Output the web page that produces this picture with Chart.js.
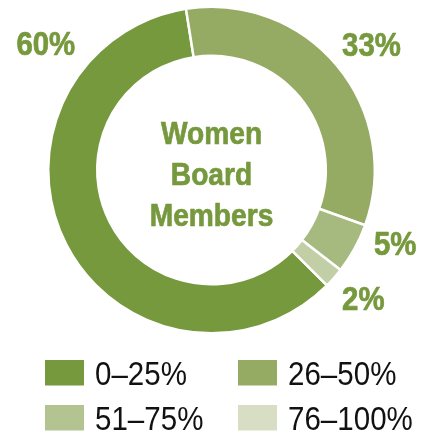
<!DOCTYPE html>
<html>
<head>
<meta charset="utf-8">
<script src="https://cdn.jsdelivr.net/npm/chart.js@4/dist/chart.umd.min.js"></script>
<style>
  html, body { margin: 0; padding: 0; background: #fff; }
  #wrap { width: 431px; height: 438px; position: relative; }
</style>
</head>
<body>
<div id="wrap"><canvas id="c" width="431" height="438"></canvas></div>
<script>
// ---- data ----
const categories = ['0\u201325%', '26\u201350%', '51\u201375%', '76\u2013100%'];
const shares = [60, 33, 5, 2];
const valueLabels = ['60%', '33%', '5%', '2%'];
const centerTitle = ['Women', 'Board', 'Members'];

// ---- styles ----
const sliceColors = ['#76993d', '#95ab64', '#a6b97e', '#c2cea5'];
const legendColors = ['#76993d', '#95ab64', '#b3c491', '#d8dec4'];
const green = '#76993d';
const baseFont = "'Liberation Sans', Arial, Helvetica, sans-serif";

// label placement, relative to doughnut center, in units of outer radius
const labelOffsets = [[-1.015, -0.775], [0.98, -0.77], [1.125, 0.45], [0.93, 0.785]];

function narrowText(ctx, text, x, y, sx, stroke) {
  ctx.save();
  ctx.translate(x, y);
  ctx.scale(sx, 1);
  ctx.fillText(text, 0, 0);
  if (stroke) {
    ctx.lineWidth = stroke;
    ctx.lineJoin = 'round';
    ctx.strokeText(text, 0, 0);
  }
  ctx.restore();
}

const overlay = {
  id: 'overlay',
  afterDraw(chart) {
    const ctx = chart.ctx;
    const arc = chart.getDatasetMeta(0).data[0];
    const cx = arc.x, cy = arc.y, R = arc.outerRadius;
    ctx.save();
    ctx.fillStyle = green;
    ctx.strokeStyle = green;
    ctx.textAlign = 'center';
    ctx.textBaseline = 'alphabetic';
    // center title
    ctx.font = "bold 32px " + baseFont;
    const lh = 41;
    centerTitle.forEach((t, i) => {
      narrowText(ctx, t, cx, cy + 15 + (i - 1) * lh, 0.88, 0.7);
    });
    // value labels
    ctx.font = "bold 33px " + baseFont;
    valueLabels.forEach((t, i) => {
      const [ox, oy] = labelOffsets[i];
      narrowText(ctx, t, cx + ox * R, cy + oy * R + 12, 0.89, 0.7);
    });
    // legend (2 columns)
    ctx.textAlign = 'left';
    ctx.font = "33px " + baseFont;
    const colX = [45, 238];
    const rowY = [360, 405];
    categories.forEach((lab, i) => {
      const x = colX[i % 2], y = rowY[Math.floor(i / 2)];
      ctx.fillStyle = legendColors[i];
      ctx.fillRect(x, y, 39, 25.5);
      ctx.fillStyle = '#111';
      narrowText(ctx, lab, x + 50, y + 25, 0.895, 0);
    });
    ctx.restore();
  }
};

new Chart(document.getElementById('c'), {
  type: 'doughnut',
  data: {
    labels: categories,
    datasets: [{
      data: shares,
      backgroundColor: sliceColors,
      borderColor: '#ffffff',
      borderWidth: 2.5,
      hoverOffset: 0
    }]
  },
  options: {
    responsive: false,
    animation: false,
    rotation: 135,
    cutout: '70%',
    layout: { padding: { top: 5, bottom: 103, left: 47, right: 55 } },
    plugins: {
      legend: { display: false },
      tooltip: { enabled: false }
    }
  },
  plugins: [overlay]
});
</script>
</body>
</html>
